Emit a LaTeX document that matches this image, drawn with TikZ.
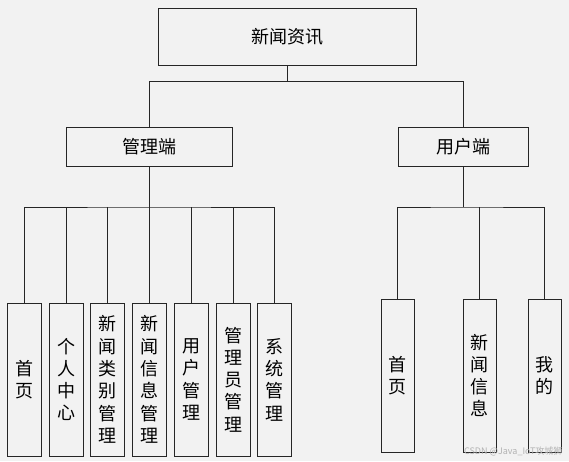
\documentclass[tikz,border=0pt]{standalone}
\usepackage{fontspec}
\usepackage{xcolor}
\usepackage{tikz}
\newfontfamily\cjk{Noto Sans CJK SC}
\definecolor{bggray}{HTML}{F2F2F2}

\begin{document}
\begin{tikzpicture}[x=1pt, y=-1pt,
  boxnode/.style={rectangle, draw=black!85, fill=bggray, line width=0.8pt, inner sep=0pt, align=center, font=\cjk\fontsize{18}{22.3}\selectfont},
  leafnode/.style={boxnode, minimum width=34pt, minimum height=153pt},
  wire/.style={draw=black!85, line width=0.8pt}]
\useasboundingbox (0,0) rectangle (569,461);
\fill[bggray] (0,0) rectangle (569,461);

\node[boxnode, minimum width=258pt, minimum height=57pt] (root) at (287, 36.5) {新闻资讯};
\node[boxnode, minimum width=166pt, minimum height=39pt] (admin) at (149, 146.5) {管理端};
\node[boxnode, minimum width=130pt, minimum height=39pt] (user) at (463, 146.5) {用户端};

\node[leafnode] (l1) at (24, 379.5) {首\\页};
\node[leafnode] (l2) at (66, 379.5) {个\\人\\中\\心};
\node[leafnode] (l3) at (107.5, 379.5) {新\\闻\\类\\别\\管\\理};
\node[leafnode] (l4) at (149.5, 379.5) {新\\闻\\信\\息\\管\\理};
\node[leafnode] (l5) at (191, 379.5) {用\\户\\管\\理};
\node[leafnode] (l6) at (233, 379.5) {管\\理\\员\\管\\理};
\node[leafnode] (l7) at (274.5, 379.5) {系\\统\\管\\理};

\node[leafnode, minimum width=33pt] (r1) at (397.5, 375.5) {首\\页};
\node[leafnode, minimum width=33pt] (r2) at (479.5, 375.5) {新\\闻\\信\\息};
\node[leafnode, minimum width=33pt] (r3) at (544.5, 375.5) {我\\的};

\coordinate (bus1) at (287, 81.5);
\coordinate (bus2) at (149, 207);
\coordinate (bus3) at (463, 207);

% top level
\draw[wire] (root.south) -- (bus1);
\draw[wire] (admin.north) |- (bus1) -| (user.north);

% admin side
\draw[wire] (admin.south) -- (bus2);
\draw[wire] (l1.north) |- (bus2) -| (l7.north);
\draw[wire] (l2.north) -- (l2.north |- bus2);
\draw[wire] (l3.north) -- (l3.north |- bus2);
\draw[wire] (l4.north) -- (l4.north |- bus2);
\draw[wire] (l5.north) -- (l5.north |- bus2);
\draw[wire] (l6.north) -- (l6.north |- bus2);

% user side
\draw[wire] (user.south) -- (bus3);
\draw[wire] (r1.north) |- (bus3) -| (r3.north);
\draw[wire] (r2.north) -- (r2.north |- bus3);

\node[font=\cjk\fontsize{9}{10}\selectfont, text=black!30, anchor=east] (mark) at (566, 451) {CSDN @Java\_IoT攻城狮};

\end{tikzpicture}
\end{document}
